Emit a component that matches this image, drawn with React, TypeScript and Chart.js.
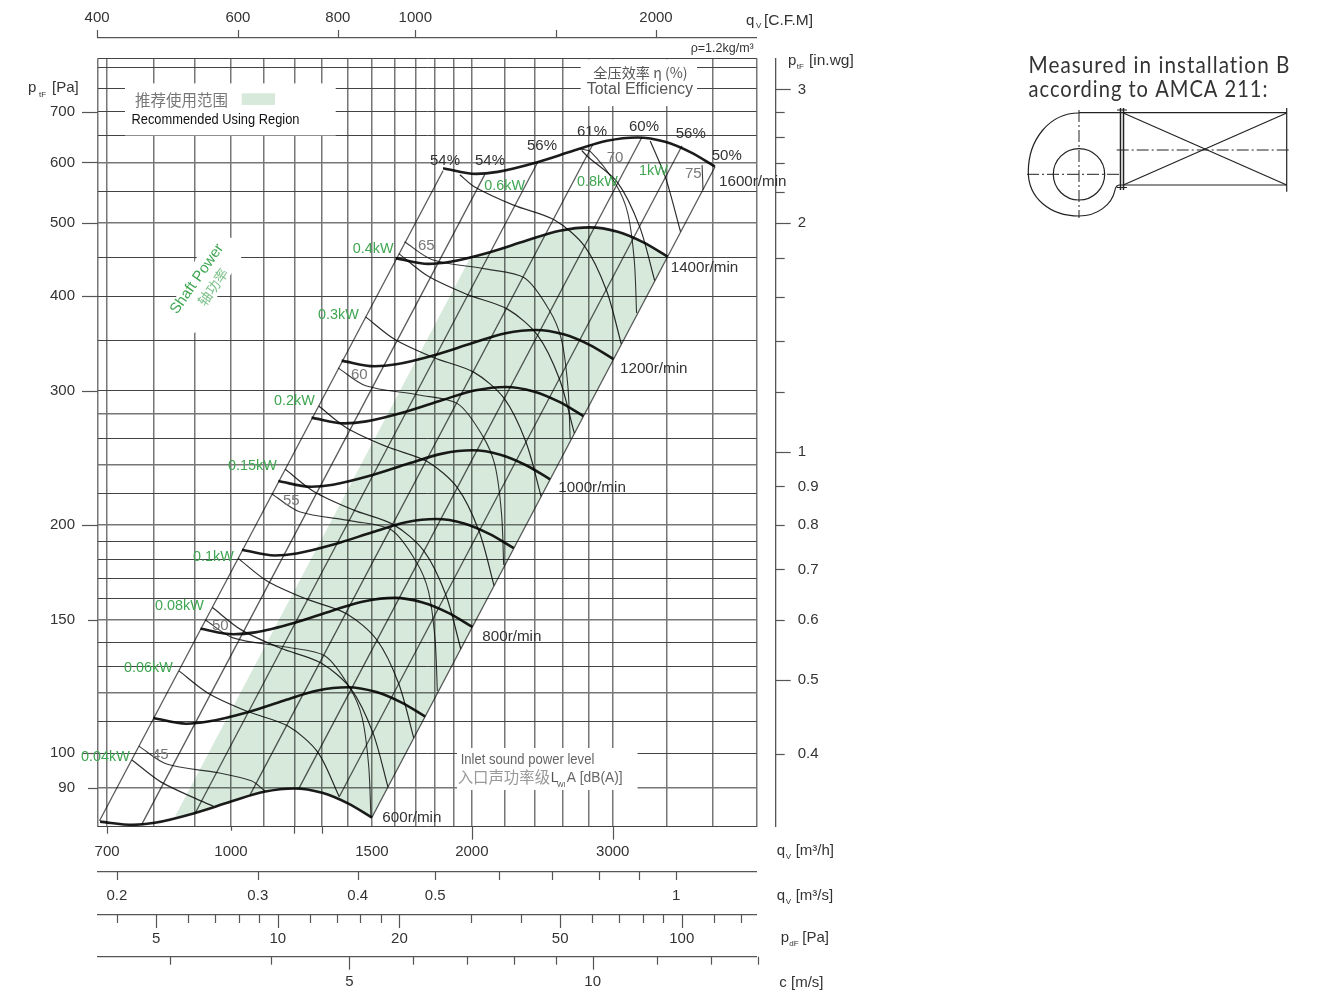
import React, { useEffect, useRef } from "react";
import { Chart, registerables } from "chart.js";

Chart.register(...registerables);

// Axis values
const qLimits = [682, 4540];
const pLimits = [80.05, 822.6];
const qGrid = [682, 700, 800, 900, 1000, 1100, 1200, 1300, 1400, 1500, 1600, 1700, 1800, 1900, 2000, 2200, 2400, 2600, 2800, 3000, 3500, 4000, 4540];
const qLabels = [700, 1000, 1500, 2000, 3000];
const pGrid = [80.05, 90, 100, 110, 120, 130, 140, 150, 160, 170, 180, 190, 200, 220, 240, 260, 280, 300, 350, 400, 450, 500, 550, 600, 650, 700, 750, 800, 822.6];
const pLabels = [90, 100, 150, 200, 300, 400, 500, 600, 700];
const pHeavy = [90, 120, 150, 200, 240, 280, 500, 600];
const cfmLimits = [401, 2673];
const cfmTicks = [400, 600, 800, 1000, 1500, 2000];
const cfmLabels = [400, 600, 800, 1000, 2000];
const m3sLimits = [0.1894, 1.2611];
const m3sTicks = [0.2, 0.3, 0.4, 0.5, 0.6, 0.7, 0.8, 0.9, 1];
const m3sLabels = [0.2, 0.3, 0.4, 0.5, 1];
const pdfLimits = [3.588, 153.3];
const pdfTicks = [4, 5, 6, 7, 8, 9, 10, 12, 14, 16, 18, 20, 30, 40, 50, 60, 70, 80, 90, 100, 120, 140];
const pdfLabels = [5, 10, 20, 50, 100];
const cLimits = [2.444, 15.955];
const cTicks = [3, 4, 5, 6, 7, 8, 9, 10, 12, 14, 16];
const cLabels = [5, 10];
const wgLimits = [0.3208, 3.297];
const wgTicks = [0.4, 0.5, 0.6, 0.7, 0.8, 0.9, 1, 1.2, 1.4, 1.6, 1.8, 2, 2.2, 2.4, 2.6, 2.8, 3];
const wgLabels = [0.4, 0.5, 0.6, 0.7, 0.8, 0.9, 1, 2, 3];

// Fan speed curves: flow [m3/h], pressure [Pa]
const speed600 = [[686, 81.3], [754, 80.5], [803, 81], [900, 83.4], [1000, 86.4], [1100, 89], [1200, 89.9], [1300, 88.7], [1400, 85.9], [1500, 82.3]];
const speed700 = [[800, 111.3], [879, 109.4], [936, 110.1], [1049, 113.3], [1166, 117.4], [1283, 121], [1399, 122.2], [1516, 120.5], [1632, 116.7], [1749, 111.8]];
const speed800 = [[916, 145.9], [1007, 143.5], [1072, 144.3], [1202, 148.6], [1335, 154], [1469, 158.6], [1602, 160.2], [1736, 158], [1869, 153.1], [2003, 146.7]];
const speed900 = [[1032, 185.4], [1134, 182.2], [1208, 183.3], [1354, 188.8], [1505, 195.6], [1655, 201.5], [1805, 203.5], [1956, 200.8], [2106, 194.4], [2257, 186.3]];
const speed1000 = [[1146, 228.3], [1259, 224.4], [1341, 225.8], [1503, 232.5], [1670, 240.9], [1837, 248.1], [2004, 250.6], [2171, 247.3], [2338, 239.5], [2505, 229.5]];
const speed1100 = [[1261, 276.7], [1386, 271.9], [1476, 273.6], [1654, 281.7], [1838, 291.9], [2022, 300.6], [2206, 303.7], [2389, 299.6], [2573, 290.2], [2757, 278]];
const speed1200 = [[1375, 328.9], [1511, 323.3], [1609, 325.3], [1804, 334.9], [2004, 347], [2204, 357.4], [2405, 361], [2605, 356.2], [2806, 345], [3006, 330.5]];
const speed1400 = [[1606, 448.8], [1765, 441.1], [1880, 443.9], [2107, 457], [2341, 473.5], [2575, 487.7], [2809, 492.7], [3043, 486.1], [3277, 470.7], [3512, 451]];
const speed1600 = [[1841, 589.5], [2023, 579.4], [2154, 583], [2415, 600.3], [2683, 621.9], [2951, 640.6], [3220, 647.1], [3488, 638.5], [3756, 618.3], [4025, 592.4]];

// System lines (efficiency rays)
const ray54a = [[685, 81.5], [1841, 585]];
const ray54b = [[773, 80.5], [2077, 579]];
const ray56a = [[902, 83.4], [2419, 601]];
const ray61 = [[1056, 88.1], [2834, 634]];
const ray60 = [[1216, 89.9], [3264, 648]];
const ray56b = [[1365, 87.6], [3662, 631]];
const ray50 = [[1500, 82.3], [4027, 592]];

// Shaft power lines
const power004 = [[752, 98], [817, 91.7], [914, 86.7], [950, 85.2]];
const power006 = [[861, 128.4], [935, 120.1], [1047, 113.6], [1178, 108.6], [1284, 100.3], [1365, 87.7]];
const power008 = [[948, 155.6], [1029, 145.5], [1152, 137.6], [1296, 131.5], [1413, 121.5], [1505, 106.3], [1571, 90.3]];
const power010 = [[1021, 180.6], [1108, 168.8], [1241, 159.7], [1396, 152.6], [1522, 141], [1621, 123.4], [1692, 104.8]];
const power015 = [[1169, 236.6], [1269, 221.2], [1421, 209.2], [1598, 199.9], [1742, 184.7], [1856, 161.6], [1937, 137.3]];
const power020 = [[1287, 286.6], [1397, 268], [1564, 253.5], [1759, 242.2], [1918, 223.8], [2043, 195.8], [2132, 166.3]];
const power030 = [[1473, 375.6], [1599, 351.2], [1790, 332.1], [2013, 317.4], [2195, 293.3], [2338, 256.6], [2441, 218]];
const power040 = [[1621, 455], [1760, 425.4], [1970, 402.3], [2216, 384.5], [2416, 355.3], [2574, 310.8], [2686, 264]];
const power060 = [[1932, 578], [2014, 557.4], [2255, 527.1], [2537, 503.8], [2766, 465.5], [2946, 407.2], [3075, 345.9]];
const power080 = [[2744, 622], [2792, 610.4], [3044, 564], [3242, 493.4], [3385, 419.2]];
const power100 = [[3342, 640], [3493, 572.5], [3646, 486.4]];

// Sound power lines
const sound45 = [[767, 102.2], [831, 96.8], [967, 94.2], [1060, 92], [1103, 89.2]];
const sound50 = [[929, 149.8], [1006, 141.9], [1171, 138], [1311, 134.3], [1408, 121.9], [1458, 111.6], [1486, 96.5], [1496, 82.4]];
const sound55 = [[1125, 219.5], [1218, 208], [1418, 202.2], [1587, 196.8], [1705, 178.6], [1765, 163.5], [1799, 141.4], [1811, 120.8]];
const sound60 = [[1361, 321.8], [1474, 304.8], [1716, 296.4], [1921, 288.5], [2063, 261.8], [2137, 239.7], [2178, 207.3], [2192, 177]];
const sound65 = [[1648, 471.6], [1785, 446.7], [2078, 434.4], [2326, 422.8], [2498, 383.7], [2587, 351.3], [2637, 303.8], [2654, 259.4]];
const sound70 = [[2730, 625], [2816, 619.5], [3024, 562.3], [3132, 514.8], [3192, 445.2], [3213, 380.1]];
const sound75 = [[3880, 595], [3890, 552]];

// Recommended using region
const recommended = [[851, 82.5], [900, 83.4], [1000, 86.4], [1100, 89], [1200, 89.9], [1300, 88.7], [1400, 85.9], [1500, 82.3], [3512, 451], [3277, 470.7], [3043, 486.1], [2809, 492.7], [2575, 487.7], [2341, 473.5], [2107, 457], [1990, 449]];

const speedCurves = [speed600, speed700, speed800, speed900, speed1000, speed1100, speed1200, speed1400, speed1600];
const rays = [ray54a, ray54b, ray56a, ray61, ray60, ray56b, ray50];
const powerLines = [power004, power006, power008, power010, power015, power020, power030, power040, power060, power080, power100];
const soundLines = [sound45, sound50, sound55, sound60, sound65, sound70, sound75];

const SANS = '"Liberation Sans", Arial, sans-serif';
const CJK = '"Noto Sans CJK SC", sans-serif';
const GREEN = "#3fa652";
const DARK = "#333";
const GREY = "#777";

type Txt = [string, number, number, string, number, number?];
const texts: Txt[] = [
  ["p", 28, 87, DARK, 15], ["tF", 39, 93.5, DARK, 8], ["[Pa]", 52, 87, DARK, 15],
  ["q", 746, 20, DARK, 15], ["V", 756, 25, DARK, 8], ["[C.F.M]", 764, 20, DARK, 15.5],
  ["ρ=1.2kg/m³", 690.7, 47.5, DARK, 12.5],
  ["p", 788, 60, DARK, 15], ["tF", 796.7, 66, DARK, 8], ["[in.wg]", 809, 60, DARK, 15.5],
  ["Recommended Using Region", 131.5, 119, "#111", 14, 168],
  ["0.04kW", 81, 756, GREEN, 14.4], ["0.06kW", 124, 667, GREEN, 14.4], ["0.08kW", 155, 605, GREEN, 14.4],
  ["0.1kW", 193, 556, GREEN, 14.4], ["0.15kW", 228, 465, GREEN, 14.4], ["0.2kW", 274, 400, GREEN, 14.4],
  ["0.3kW", 318, 314, GREEN, 14.4], ["0.4kW", 352.7, 248, GREEN, 14.4], ["0.6kW", 484.3, 185, GREEN, 14.4],
  ["0.8kW", 577, 181, GREEN, 14.4], ["1kW", 639, 170, GREEN, 14.4],
  ["45", 152, 754, GREY, 15], ["50", 212, 625, GREY, 15], ["55", 283, 500, GREY, 15], ["60", 351, 374, GREY, 15],
  ["65", 418, 245, GREY, 15], ["70", 606.7, 157, GREY, 15], ["75", 685, 173, GREY, 15],
  ["54%", 430, 160, DARK, 15], ["54%", 475, 160, DARK, 15], ["56%", 527, 145, DARK, 15], ["61%", 577, 131, DARK, 15],
  ["60%", 629, 126, DARK, 15], ["56%", 675.7, 133, DARK, 15], ["50%", 711.7, 155, DARK, 15],
  ["1600r/min", 719, 181, DARK, 15.2], ["1400r/min", 670.7, 267, DARK, 15.2], ["1200r/min", 620, 367.7, DARK, 15.2],
  ["1000r/min", 558.3, 486.7, DARK, 15.2], ["800r/min", 482.3, 635.7, DARK, 15.2], ["600r/min", 382.3, 816.7, DARK, 15.2],
  ["Total Efficiency", 586.7, 89, "#555", 16],
  ["Inlet sound power level", 460.7, 759, "#666", 14, 133.6],
  ["L", 550.7, 777, "#555", 14], ["WI", 557, 784, "#555", 7], ["A [dB(A)]", 566.7, 777, "#666", 14, 56],
  ["q", 776.7, 850, DARK, 15], ["V", 785.7, 855.5, DARK, 8], ["[m³/h]", 795.7, 850, DARK, 15],
  ["q", 776.7, 895, DARK, 15], ["V", 785.7, 900.5, DARK, 8], ["[m³/s]", 795.7, 895, DARK, 15],
  ["p", 780.7, 936.7, DARK, 15], ["dF", 789.3, 943, DARK, 8], ["[Pa]", 802.3, 936.7, DARK, 15],
  ["c [m/s]", 779.3, 981.7, DARK, 15],
];
const cjkTexts: Txt[] = [
  ["推荐使用范围", 135, 100, "#777", 15.5],
  ["全压效率 η (%)", 593.3, 72.5, "#555", 14.2],
  ["入口声功率级", 457.7, 777, "#999", 15.4],
];

const maskBoxes = [[125, 83.4, 210.7, 52], [580.7, 59.3, 116.3, 46.7], [457, 748, 180.5, 42]];
const maskShaft = [[210, 232], [250, 243], [195, 333], [164, 320]];

const logAxis = (limits: number[], tickValues: number[], labels: number[], position: string, size: number, padding: number, weight: number) => ({
  type: "logarithmic",
  position,
  axis: position === "top" || position === "bottom" ? "x" : "y",
  min: limits[0],
  max: limits[1],
  bounds: "data",
  weight,
  grid: { display: false, drawTicks: false },
  border: { display: true, color: "#555", width: 1.3 },
  ticks: {
    autoSkip: false,
    maxRotation: 0,
    minRotation: 0,
    padding,
    color: DARK,
    font: { family: SANS, size: 15 },
    callback: (v: number) => (labels.includes(v) ? String(v) : ""),
  },
  afterBuildTicks: (s: any) => { s.ticks = tickValues.map((value) => ({ value })); },
  afterFit: (s: any) => {
    if (position === "top" || position === "bottom") s.height = size; else s.width = size;
  },
});

const spacer = (position: string, size: number, weight: number) => ({
  type: "linear",
  position,
  axis: position === "top" ? "x" : "y",
  weight,
  grid: { display: false, drawTicks: false },
  border: { display: false },
  ticks: { display: false },
  afterFit: (s: any) => {
    if (position === "top") s.height = size; else s.width = size;
  },
});

const toPoints = (rows: number[][]) => rows.map(([x, y]) => ({ x, y }));

const marks = (id: string, values: number[], len: (v: number) => number) => ({ id, values, len });
const markSets = [
  marks("cfm", cfmTicks, () => 8),
  marks("m3s", m3sTicks, () => 8),
  marks("pdf", pdfTicks, (v) => (pdfLabels.includes(v) ? 13 : 8)),
  marks("c", cTicks, (v) => (cLabels.includes(v) ? 13 : 8)),
  marks("wg", wgTicks, (v) => ([0.5, 1, 2, 3].includes(v) ? 15 : 9)),
  marks("x", [700, 1000, 1200, 1300, 2000, 3000], (v) => (v >= 2000 ? 13 : v === 1000 ? 4 : 7)),
  marks("y", pLabels, (v) => (v === 90 || v === 150 ? 10 : 16)),
];

const page = {
  id: "page",
  beforeDraw(chart: any) {
    const { ctx, width, height } = chart;
    ctx.save();
    ctx.fillStyle = "#fff";
    ctx.fillRect(0, 0, width, height);
    ctx.restore();
  },
  beforeDatasetsDraw(chart: any) {
    const { ctx } = chart;
    ctx.save();
    ctx.fillStyle = "#fff";
    maskBoxes.forEach(([x, y, w, h]) => ctx.fillRect(x, y, w, h));
    ctx.beginPath();
    maskShaft.forEach(([x, y], i) => (i ? ctx.lineTo(x, y) : ctx.moveTo(x, y)));
    ctx.closePath();
    ctx.fill();
    ctx.restore();
    ctx.globalCompositeOperation = "multiply";
  },
  afterDatasetsDraw(chart: any) {
    chart.ctx.globalCompositeOperation = "source-over";
  },
  afterDraw(chart: any) {
    const { ctx, scales } = chart;
    ctx.save();
    // tick marks from the scales
    ctx.strokeStyle = "#555";
    ctx.lineWidth = 1.2;
    markSets.forEach(({ id, values, len }) => {
      const s = scales[id];
      values.forEach((v) => {
        const l = len(v);
        const p = Math.round(s.getPixelForValue(v)) + 0.5;
        ctx.beginPath();
        if (s.position === "top") { ctx.moveTo(p, s.bottom); ctx.lineTo(p, s.bottom - l); }
        else if (s.position === "bottom") { ctx.moveTo(p, s.top); ctx.lineTo(p, s.top + l); }
        else if (s.position === "right") { ctx.moveTo(s.left, p); ctx.lineTo(s.left + l, p); }
        else { ctx.moveTo(s.right, p); ctx.lineTo(s.right - l, p); }
        ctx.stroke();
      });
    });

    // legend swatch
    ctx.fillStyle = "#d6e9db";
    ctx.fillRect(241.7, 93.3, 33.3, 11.7);

    // annotations
    ctx.textBaseline = "middle";
    ctx.textAlign = "left";
    const put = (list: Txt[], family: string, dy: number) =>
      list.forEach(([t, x, y, color, size, maxW]) => {
        ctx.font = `${size}px ${family}`;
        ctx.fillStyle = color;
        if (maxW) ctx.fillText(t, x, y + dy, maxW); else ctx.fillText(t, x, y + dy);
      });
    put(texts, SANS, 0.8);
    put(cjkTexts, CJK, 0);

    ctx.save();
    ctx.translate(197, 279);
    ctx.rotate((-55 * Math.PI) / 180);
    ctx.textAlign = "center";
    ctx.fillStyle = GREEN;
    ctx.font = `15px ${SANS}`;
    ctx.fillText("Shaft Power", 0, 0);
    ctx.restore();
    ctx.save();
    ctx.translate(213, 287);
    ctx.rotate((-55 * Math.PI) / 180);
    ctx.textAlign = "center";
    ctx.fillStyle = "#7cc18a";
    ctx.font = `14px ${CJK}`;
    ctx.fillText("轴功率", 0, 0);
    ctx.restore();

    // installation note
    ctx.fillStyle = "#333";
    ctx.font = `24px Lato, "Open Sans", sans-serif`;
    ctx.letterSpacing = "1.2px";
    ctx.fillText("Measured in installation B", 1028.5, 65, 262);
    ctx.fillText("according to AMCA 211:", 1028.5, 89, 240);
    ctx.letterSpacing = "0px";

    // installation sketch
    ctx.strokeStyle = "#222";
    ctx.lineWidth = 1.2;
    const line = (a: number, b: number, c: number, d: number) => {
      ctx.beginPath(); ctx.moveTo(a, b); ctx.lineTo(c, d); ctx.stroke();
    };
    line(1079, 112.7, 1286.7, 112.7);
    line(1121, 185, 1286.7, 185);
    line(1286.7, 108, 1286.7, 191.7);
    line(1123.3, 113, 1286.7, 185);
    line(1123.3, 185, 1286.7, 113);
    ctx.lineWidth = 1.5;
    line(1120.5, 108, 1120.5, 190);
    line(1123.5, 108, 1123.5, 190);
    ctx.lineWidth = 1;
    line(1117, 110, 1127, 110);
    line(1117, 187.5, 1127, 187.5);
    ctx.lineWidth = 1.2;
    ctx.beginPath();
    ctx.moveTo(1079, 113);
    ctx.bezierCurveTo(1049, 113, 1028.3, 140, 1028.3, 172);
    ctx.bezierCurveTo(1028.3, 198, 1050, 216, 1079, 216);
    ctx.bezierCurveTo(1097, 216, 1112, 205, 1115, 190);
    ctx.quadraticCurveTo(1116, 185, 1120, 185);
    ctx.stroke();
    ctx.beginPath();
    ctx.arc(1079, 174.3, 25.7, 0, Math.PI * 2);
    ctx.stroke();
    ctx.lineWidth = 1;
    ctx.setLineDash([12, 3, 2, 3]);
    line(1116.7, 150, 1290.7, 150);
    line(1027, 174.3, 1120, 174.3);
    line(1079, 110, 1079, 218);
    ctx.setLineDash([]);
    ctx.restore();
  },
};

export default function App() {
  const ref = useRef<HTMLCanvasElement>(null);
  useEffect(() => {
    const line = (rows: number[][], color: string, width: number, tension: number, monotone = false) => ({
      data: toPoints(rows),
      borderColor: color,
      borderWidth: width,
      tension,
      cubicInterpolationMode: monotone ? "monotone" : "default",
      pointRadius: 0,
      showLine: true,
      fill: false,
    });
    const chart = new Chart(ref.current as any, {
      type: "scatter",
      data: {
        datasets: [
          {
            data: toPoints(recommended),
            backgroundColor: "#d6e9db",
            borderWidth: 0,
            borderColor: "rgba(0,0,0,0)",
            pointRadius: 0,
            showLine: true,
            tension: 0,
            fill: "shape",
          },
          ...rays.map((r) => line(r, "#5a5a5a", 1.3, 0)),
          ...soundLines.map((r) => line(r, "#3a3a3a", 1.1, 0.3)),
          ...powerLines.map((r) => line(r, "#2e2e2e", 1.2, 0.3)),
          ...speedCurves.map((r) => line(r, "#1c1c1c", 2.6, 0.4, true)),
        ],
      } as any,
      options: {
        responsive: false,
        animation: false,
        layout: { padding: 0 },
        plugins: { legend: { display: false }, tooltip: { enabled: false }, title: { display: false } },
        events: [],
        scales: {
          x: {
            ...logAxis(qLimits, qGrid, qLabels, "bottom", 45.3, 16, 1),
            border: { display: false },
            grid: { display: true, drawTicks: false, color: "#777", lineWidth: 1.5 },
          },
          m3s: logAxis(m3sLimits, m3sTicks, m3sLabels, "bottom", 43, 14.7, 2),
          pdf: logAxis(pdfLimits, pdfTicks, pdfLabels, "bottom", 41.7, 15.3, 3),
          c: logAxis(cLimits, cTicks, cLabels, "bottom", 34.3, 16, 4),
          y: {
            ...logAxis(pLimits, pGrid, pLabels, "left", 98, 23, 1),
            border: { display: false },
            grid: {
              display: true,
              drawTicks: false,
              color: (c: any) => (pHeavy.includes(c.tick?.value) ? "#777" : "#444"),
              lineWidth: (c: any) => (pHeavy.includes(c.tick?.value) ? 1.5 : 1),
            },
          },
          gapTop: spacer("top", 20.3, 1),
          cfm: logAxis(cfmLimits, cfmTicks, cfmLabels, "top", 38, 11.3, 2),
          gapRight: spacer("right", 19, 1),
          wg: logAxis(wgLimits, wgTicks, wgLabels, "right", 543.3, 22, 2),
        } as any,
      },
      plugins: [page],
    } as any);
    return () => chart.destroy();
  }, []);
  return (
    <div style={{ position: "absolute", left: 0, top: 0, width: 1319, height: 991, overflow: "hidden" }}>
      <canvas ref={ref} width={1319} height={991} style={{ display: "block" }} />
    </div>
  );
}
